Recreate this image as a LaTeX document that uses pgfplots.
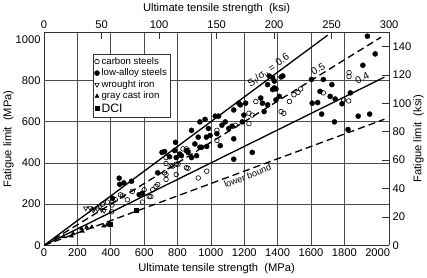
\documentclass[border=0pt]{standalone}
\usepackage{pgfplots}
\pgfplotsset{compat=1.18}
\usepackage{fontspec}
\setmainfont{Liberation Sans}

\begin{document}
\begin{tikzpicture}
\pgfplotsset{
  every axis/.append style={font=\fontsize{11}{13}\selectfont},
  /pgf/number format/assume math mode=true,
  /pgf/number format/1000 sep={},
  scaled ticks=false,
}
% main axes: MPa
\begin{axis}[
  width=340pt, height=210pt, scale only axis,
  xmin=0, xmax=2068.4, ymin=0, ymax=1034.2,
  xtick={0,200,...,2000}, ytick={0,200,...,1000},
  major tick length=0pt,
  extra x ticks={200,400,...,1800}, extra x tick labels={},
  extra y ticks={200,400,600,800}, extra y tick labels={},
  extra tick style={grid=major, major tick length=0pt},
  grid style={black!70, line width=0.7pt},
  axis line style={black!80, line width=0.8pt},
  axis x line*=bottom, axis y line*=left,
  xlabel={Ultimate tensile strength~~(MPa)},
  ylabel={Fatigue limit~~(MPa)},
  ylabel shift=-5pt,
  legend style={at={(0.141,0.9)}, anchor=north west, draw=black!80,
    font=\fontsize{9.5}{10}\selectfont, row sep=-1pt, inner sep=1.5pt},
  legend cell align=left,
]
% carbon steels
\addplot[only marks, mark=o, mark size=2.3pt, mark options={line width=0.6pt}] coordinates {
(405,163) (407,196) (427,221) (458,245) (470,240) (499,221) (529,262)
(590,210) (600,270) (630,237) (640,237) (651,270) (671,286) (681,295)
(722,352) (731,397) (731,344) (731,320) (762,385) (792,394) (792,344)
(853,377) (924,327) (975,360) (833,468) (853,468) (863,460) (731,426)
(803,394) (772,385) (863,374) (1036,558) (1036,509) (1147,583) (1228,641)
(1248,632) (1228,591) (1269,698) (1421,649) (1437,641) (1471,698)
(1498,731) (1522,742) (1538,759) (1674,740) (1795,706) (1826,701)
(1828,838) (1828,820) (380,210) (350,200)
};
\addlegendentry{carbon steels}
% low-alloy steels
\addplot[only marks, mark=*, mark size=2.5pt] coordinates {
(410,228) (450,326) (453,296) (478,303) (524,311) (570,246) (590,253)
(681,352) (707,451) (722,455) (752,430) (783,460) (788,500) (813,443)
(792,426) (823,435) (853,460) (863,451) (884,426) (884,558) (904,492)
(914,435) (924,525) (934,599) (934,476) (944,476) (965,611) (973,525)
(975,480) (985,567) (995,533) (1026,627) (1046,627) (1036,542) (1056,484)
(1066,583) (1086,599) (1107,567) (1127,578) (1137,657) (1137,517)
(1137,418) (1167,690) (1177,682) (1188,599) (1198,632) (1208,690)
(1248,451) (1299,715) (1309,690) (1319,649) (1340,780) (1340,682)
(1350,822) (1370,814) (1370,756) (1380,764) (1380,797) (1390,706)
(1390,759) (1410,723) (1421,817) (1431,822) (1603,805) (1607,690)
(1640,693) (1654,747) (1664,637) (1674,805) (1715,723) (1725,780)
(1741,599) (1745,710) (1786,687) (1822,562) (1836,740) (1883,627)
(1911,874) (1938,1015) (1952,637) (1985,929)
};
\addlegendentry{low-alloy steels}
% wrought iron
\addplot[only marks, mark=triangle, mark size=2.5pt, mark options={rotate=180, line width=0.6pt}] coordinates {
(250,180) (275,182) (300,178) (320,175) (345,172) (335,185) (360,168) (295,170)
};
\addlegendentry{wrought iron}
% gray cast iron
\addplot[only marks, mark=triangle*, mark size=2.3pt] coordinates {
(115,42) (165,45) (175,56) (225,80) (255,88) (286,89) (357,94) (377,99) (230,68)
};
\addlegendentry{gray cast iron}
% DCI
\addplot[only marks, mark=square*, mark size=1.9pt] coordinates {
(395,102) (550,170)
};
\addlegendentry{{\fontsize{12}{12}\selectfont DCI}}
% ratio lines
\addplot[black, line width=1.3pt, forget plot] coordinates {(0,0) (1700,1020)};
\addplot[black, line width=1.3pt, dash pattern=on 7pt off 4pt, forget plot] coordinates {(0,0) (2020,1010)};
\addplot[black, line width=1.3pt, forget plot] coordinates {(0,0) (2040,816)};
\addplot[black, line width=1.3pt, dash pattern=on 7pt off 4pt, forget plot] coordinates {(0,0) (2040,612)};
\node[rotate=36, anchor=south, inner sep=2pt, font=\fontsize{10}{10}\selectfont] at (axis cs:1370,822) {S\textsubscript{f}/σ\textsubscript{u} = 0.6};
\node[rotate=30, anchor=south, inner sep=2pt, font=\fontsize{10}{10}\selectfont] at (axis cs:1660,830) {0.5};
\node[rotate=26, font=\fontsize{10}{10}\selectfont] at (axis cs:1907,813) {0.4};
\node[rotate=21, anchor=north, inner sep=2pt, font=\fontsize{9}{9}\selectfont] at (axis cs:1208,362) {lower bound};
\end{axis}
% secondary axes: ksi
\begin{axis}[
  width=340pt, height=210pt, scale only axis,
  xmin=0, xmax=300, ymin=0, ymax=150,
  axis x line*=top, axis y line*=right,
  xtick={0,50,...,300}, ytick={0,20,...,140},
  tick align=inside, major tick length=7pt,
  tick style={black!80, line width=0.6pt},
  axis line style={black!80, line width=0.8pt},
  xlabel={Ultimate tensile strength~~(ksi)},
  ylabel={Fatigue limit~~(ksi)},
  ylabel shift=-5pt,
]
\addplot[draw=none] coordinates {(0,0)};
\end{axis}
\end{tikzpicture}
\end{document}
